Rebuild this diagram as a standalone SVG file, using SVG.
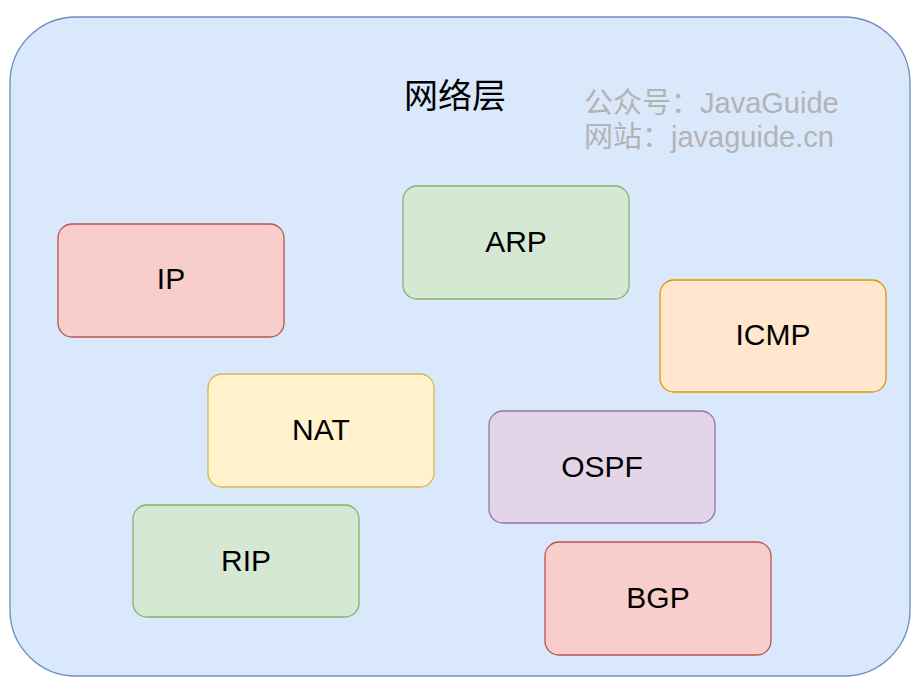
<svg xmlns="http://www.w3.org/2000/svg" width="921" height="697" viewBox="0 0 921 697">
<style>
text{font-family:"Liberation Sans","Noto Sans CJK SC",sans-serif;}
.lbl{font-size:30px;fill:#000;text-anchor:middle;dominant-baseline:central;}
.box{stroke-width:1.3;}
.red{fill:#f8cecc;stroke:#b85450;}
.green{fill:#d5e8d4;stroke:#82b366;}
.orange{fill:#ffe6cc;stroke:#d79b00;}
.yellow{fill:#fff2cc;stroke:#d6b656;}
.purple{fill:#e1d5e7;stroke:#9673a6;}
.wm{font-size:29px;fill:#b3b3b3;}
</style>
<g id="layer">
<rect x="10" y="17" width="900" height="659" rx="66" ry="66" fill="#dae8fc" stroke="#6c8ebf" stroke-width="1.3"/>
<text x="455" y="93" style="font-size:34px;fill:#000;text-anchor:middle;dominant-baseline:central;font-family:'Noto Sans CJK SC',sans-serif">网络层</text>
<text class="wm" x="584" y="113">公众号：JavaGuide</text>
<text class="wm" x="584" y="147">网站：javaguide.cn</text>
</g>
<g id="connectors"></g>
<g id="IP"><rect class="box red" x="58" y="224" width="226" height="113" rx="14"/><text class="lbl" x="171" y="278">IP</text></g>
<g id="ARP"><rect class="box green" x="403" y="186" width="226" height="113" rx="14"/><text class="lbl" x="516" y="241">ARP</text></g>
<g id="ICMP"><rect class="box orange" x="660" y="280" width="226" height="112" rx="14"/><text class="lbl" x="773" y="334">ICMP</text></g>
<g id="NAT"><rect class="box yellow" x="208" y="374" width="226" height="113" rx="14"/><text class="lbl" x="321" y="429">NAT</text></g>
<g id="OSPF"><rect class="box purple" x="489" y="411" width="226" height="112" rx="14"/><text class="lbl" x="602" y="466">OSPF</text></g>
<g id="RIP"><rect class="box green" x="133" y="505" width="226" height="112" rx="14"/><text class="lbl" x="246" y="560">RIP</text></g>
<g id="BGP"><rect class="box red" x="545" y="542" width="226" height="113" rx="14"/><text class="lbl" x="658" y="597">BGP</text></g>
</svg>
